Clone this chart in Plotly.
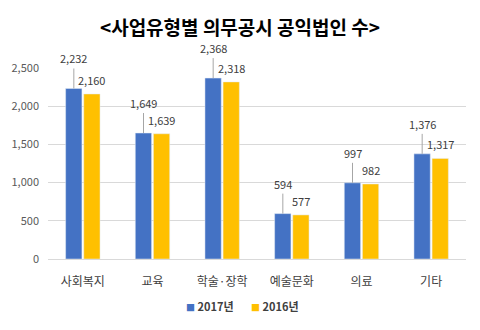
import plotly.graph_objects as go

categories = ["사회복지", "교육", "학술·장학", "예술문화", "의료", "기타"]
v2017 = [2232, 1649, 2368, 594, 997, 1376]
v2016 = [2160, 1639, 2318, 577, 982, 1317]
yticks = [0, 500, 1000, 1500, 2000, 2500]
series_names = ["2017년", "2016년"]
colors = ["#4472C4", "#FFC000"]

font = "Noto Sans CJK KR"
fig = go.Figure()
fig.add_bar(x=categories, y=v2017, name=series_names[0], marker_color=colors[0])
fig.add_bar(x=categories, y=v2016, name=series_names[1], marker_color=colors[1])

ann = []
for c, a, b in zip(categories, v2017, v2016):
    ann.append(dict(x=c, y=a, text=f"{a:,}", xref="x", yref="y", xshift=-9,
                    showarrow=True, arrowhead=0, arrowwidth=1, arrowcolor="#A6A6A6",
                    ax=0, ay=-20, yanchor="bottom",
                    font=dict(family=font, size=11, color="#404040")))
    ann.append(dict(x=c, y=b, text=f"{b:,}", xref="x", yref="y", xshift=9, yshift=4,
                    showarrow=False, yanchor="bottom",
                    font=dict(family=font, size=11, color="#404040")))

# legend drawn as text with coloured squares
legend_x = [0.388, 0.542]
for n, col, lx in zip(series_names, colors, legend_x):
    ann.append(dict(x=lx, y=-0.245, xref="paper", yref="paper",
                    text=f"<span style='color:{col};font-size:9px'>■</span> <b>{n}</b>",
                    showarrow=False, xanchor="center", yanchor="middle",
                    font=dict(family=font, size=11, color="#404040")))

fig.update_layout(
    width=480, height=330,
    margin=dict(l=48, r=14, t=68, b=71),
    paper_bgcolor="white", plot_bgcolor="white",
    barmode="group", bargap=0.48, bargroupgap=0.1,
    title=dict(text="<b><사업유형별 의무공시 공익법인 수></b>", x=0.5, xanchor="center",
               y=0.915, yanchor="middle",
               font=dict(family=font, size=19, color="#000000")),
    font=dict(family=font, size=11, color="#595959"),
    yaxis=dict(range=[0, 2500], tickvals=yticks, tickformat=",", showgrid=True,
               gridcolor="#D9D9D9", gridwidth=1, zeroline=False, showline=False,
               ticks="", ticklabelstandoff=8),
    xaxis=dict(showline=True, linecolor="#D9D9D9", linewidth=1, ticks="",
               ticklabelstandoff=12,
               tickfont=dict(size=12, color="#404040")),
    showlegend=False,
    annotations=ann,
)
fig.write_html("out.html")
